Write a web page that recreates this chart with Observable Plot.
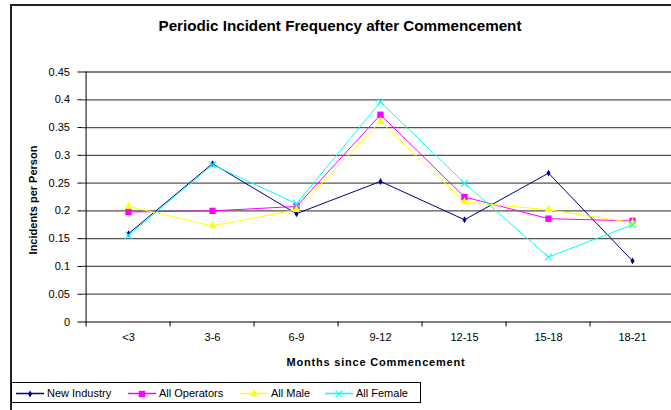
<!DOCTYPE html>
<html>
<head>
<meta charset="utf-8">
<script src="https://cdn.jsdelivr.net/npm/d3@7"></script>
<script src="https://cdn.jsdelivr.net/npm/@observablehq/plot@0.6"></script>
<style>
  html, body { margin: 0; padding: 0; background: #fff; }
  #wrap { position: relative; width: 671px; height: 410px; overflow: hidden; background: #fff; font-family: "Liberation Sans", Arial, sans-serif; }
  #frame { position: absolute; left: 10px; top: 4px; width: 800px; height: 600px; border-left: 2px solid #222; border-top: 2px solid #222; }
  #chart svg { position: absolute; left: 0; top: 0; }
  #title { position: absolute; left: 0; width: 680px; top: 17px; text-align: center; font-weight: bold; font-size: 15.2px; }
  #ytitle { position: absolute; left: 33px; top: 200px; transform: translate(-50%, -50%) rotate(-90deg); white-space: nowrap; font-weight: bold; font-size: 11px; }
  #xtitle { position: absolute; left: 376px; top: 362px; transform: translate(-50%, -50%); white-space: nowrap; font-weight: bold; font-size: 11px; letter-spacing: 0.8px; }
  #legend { position: absolute; left: 11px; top: 382px; width: 408px; height: 19px; border: 1px solid #000; background: #fff; font-size: 11px; }
  .item { position: absolute; top: 0; height: 19px; display: flex; align-items: center; white-space: nowrap; }
  .item svg { margin-right: 3px; }
</style>
</head>
<body>
<div id="wrap">
  <div id="frame"></div>
  <div id="chart"></div>
  <div id="title">Periodic Incident Frequency after Commencement</div>
  <div id="ytitle">Incidents per Person</div>
  <div id="xtitle">Months since Commencement</div>
  <div id="legend"></div>
</div>
<script>
const categories = ["<3", "3-6", "6-9", "9-12", "12-15", "15-18", "18-21"];
const newIndustry  = [0.159, 0.285, 0.195, 0.253, 0.184, 0.268, 0.110];
const allOperators = [0.198, 0.200, 0.208, 0.373, 0.225, 0.186, 0.182];
const allMale      = [0.208, 0.173, 0.202, 0.361, 0.216, 0.202, 0.179];
const allFemale    = [0.156, 0.283, 0.213, 0.396, 0.250, 0.117, 0.175];
const yTicks = [0, 0.05, 0.1, 0.15, 0.2, 0.25, 0.3, 0.35, 0.4, 0.45];

const seriesList = [
  {name: "New Industry",  values: newIndustry,  color: "#000080", symbol: "diamond", r: 2.1, fill: true},
  {name: "All Operators", values: allOperators, color: "#ff00ff", symbol: "square",  r: 3.6, fill: true},
  {name: "All Male",      values: allMale,      color: "#ffff00", symbol: "triangle",r: 3.0, fill: true},
  {name: "All Female",    values: allFemale,    color: "#00ffff", symbol: "times",   r: 3.2, fill: false}
];

const W = 671, H = 410, mL = 82.5, mR = -5.5, mT = 71.5, mB = 88.5;
const bw = (W - mR - mL) / categories.length;

const marks = [
  Plot.ruleY(yTicks.filter(d => d > 0), {stroke: "#555", strokeWidth: 1.3}),
  Plot.ruleY([0], {stroke: "#000"}),
  Plot.ruleX([categories[0]], {dx: -bw / 2, stroke: "#000"}),
  Plot.axisY({ticks: yTicks, tickSize: 5, tickPadding: 8, label: null, fontSize: 11,
              tickFormat: d => String(+d.toFixed(2))}),
  Plot.axisX({tickSize: 0, tickPadding: 11, label: null, fontSize: 11}),
  Plot.axisX({tickSize: 5, tickFormat: () => "", dx: -bw / 2, label: null})
];
for (const s of seriesList) {
  const data = categories.map((c, i) => ({cat: c, v: s.values[i]}));
  marks.push(Plot.line(data, {x: "cat", y: "v", stroke: s.color, strokeWidth: 1}));
}
for (const s of seriesList) {
  const data = categories.map((c, i) => ({cat: c, v: s.values[i]}));
  marks.push(Plot.dot(data, {x: "cat", y: "v", symbol: () => s.symbol, r: s.r,
    fill: s.fill ? s.color : "none", stroke: s.color, strokeWidth: s.fill ? 0 : 1.2}));
}

const chart = Plot.plot({
  width: W, height: H,
  marginLeft: mL, marginRight: mR, marginTop: mT, marginBottom: mB,
  style: {fontFamily: "'Liberation Sans', Arial, sans-serif", fontSize: "11px", color: "#000", background: "transparent", overflow: "visible"},
  x: {type: "band", domain: categories, padding: 0},
  y: {domain: [0, 0.45]},
  symbol: {type: "identity"},
  marks
});
document.getElementById("chart").appendChild(chart);

// legend
const legend = document.getElementById("legend");
const positions = [4, 116, 228, 313];
seriesList.forEach((s, i) => {
  const item = document.createElement("div");
  item.className = "item";
  item.style.left = positions[i] + "px";
  const ns = "http://www.w3.org/2000/svg";
  const svg = document.createElementNS(ns, "svg");
  svg.setAttribute("width", 28); svg.setAttribute("height", 12);
  const ln = document.createElementNS(ns, "line");
  ln.setAttribute("x1", 0); ln.setAttribute("x2", 28); ln.setAttribute("y1", 6.5); ln.setAttribute("y2", 6.5);
  ln.setAttribute("stroke", s.color); ln.setAttribute("stroke-width", 1.5);
  svg.appendChild(ln);
  const p = document.createElementNS(ns, "path");
  const symMap = {diamond: d3.symbolDiamond, square: d3.symbolSquare, triangle: d3.symbolTriangle, times: d3.symbolTimes};
  p.setAttribute("d", d3.symbol(symMap[s.symbol], Math.PI * s.r * s.r)());
  p.setAttribute("transform", "translate(14,7)");
  if (s.fill) { p.setAttribute("fill", s.color); }
  else { p.setAttribute("fill", "none"); p.setAttribute("stroke", s.color); p.setAttribute("stroke-width", 1.2); }
  svg.appendChild(p);
  item.appendChild(svg);
  const t = document.createElement("span");
  t.textContent = s.name;
  item.appendChild(t);
  legend.appendChild(item);
});
</script>
</body>
</html>
